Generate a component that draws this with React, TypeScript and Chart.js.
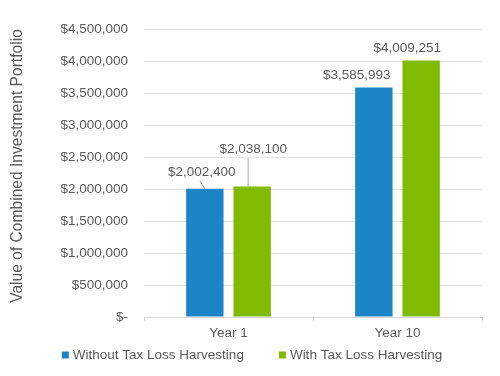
import React, { useEffect, useRef } from "react";
import { Chart, registerables } from "chart.js";

Chart.register(...registerables);

const categories = ["Year 1", "Year 10"];
const seriesNames = ["Without Tax Loss Harvesting", "With Tax Loss Harvesting"];
const withoutTLH = [2002400, 3585993];
const withTLH = [2038100, 4009251];
const yMin = 0;
const yMax = 4500000;
const yStep = 500000;
const yTitle = "Value of Combined Investment Portfolio";

const COLORS = ["#1B85C8", "#80BA01"];
const TEXT = "#595959";
const FONT_FAMILY = "'Liberation Sans', Arial, sans-serif";
const FONT_SIZE = 13.5;
const TITLE_SIZE = 15.6;

// label placement (relative to bar top centre) per dataset, per category
const labelOffsets = [
  [[-3, -17], [-17, -12.5]],
  [[1, -37], [-14, -12.5]],
];
// leader lines [dx1, dy1, dx2, dy2] relative to bar top centre, or null
const leaderLines = [
  [[-5, -8, 0, 0], null],
  [[-4, -28, -4, 0], null],
];

const fmt = (v: number) => (v === 0 ? "$-" : "$" + v.toLocaleString("en-US"));

const valueLabels = {
  id: "valueLabels",
  afterDatasetsDraw(chart: any) {
    const ctx = chart.ctx;
    ctx.save();
    ctx.font = `${FONT_SIZE}px ${FONT_FAMILY}`;
    ctx.fillStyle = TEXT;
    ctx.textAlign = "center";
    ctx.textBaseline = "middle";
    chart.data.datasets.forEach((ds: any, di: number) => {
      const meta = chart.getDatasetMeta(di);
      meta.data.forEach((bar: any, i: number) => {
        const [dx, dy] = labelOffsets[di][i];
        const ll = leaderLines[di][i];
        if (ll) {
          ctx.strokeStyle = "#A6A6A6";
          ctx.lineWidth = 1;
          ctx.beginPath();
          ctx.moveTo(bar.x + ll[0], bar.y + ll[1]);
          ctx.lineTo(bar.x + ll[2], bar.y + ll[3]);
          ctx.stroke();
        }
        ctx.fillText(fmt(ds.data[i]), bar.x + dx, bar.y + dy);
      });
    });
    ctx.restore();
  },
};

const axisTitle = {
  id: "axisTitle",
  afterDraw(chart: any) {
    const ctx = chart.ctx;
    const area = chart.chartArea;
    ctx.save();
    ctx.font = `${TITLE_SIZE}px ${FONT_FAMILY}`;
    ctx.fillStyle = TEXT;
    ctx.textAlign = "center";
    ctx.textBaseline = "middle";
    ctx.translate(18, (area.top + area.bottom) / 2 - 7);
    ctx.rotate(-Math.PI / 2);
    ctx.fillText(yTitle, 0, 0);
    ctx.restore();
  },
};

const bottomLegend = {
  id: "bottomLegend",
  afterDraw(chart: any) {
    const ctx = chart.ctx;
    ctx.save();
    ctx.font = `${FONT_SIZE}px ${FONT_FAMILY}`;
    ctx.textBaseline = "middle";
    ctx.textAlign = "left";
    const box = 7;
    const gapText = 4;
    const gapItems = 35;
    const items = chart.data.datasets.map((ds: any) => ({
      label: ds.label,
      color: ds.backgroundColor,
      w: ctx.measureText(ds.label).width,
    }));
    const total =
      items.reduce((s: number, it: any) => s + box + gapText + it.w, 0) +
      gapItems * (items.length - 1);
    let x = chart.width / 2 - total / 2 + 2;
    const y = 355;
    items.forEach((it: any) => {
      ctx.fillStyle = it.color;
      ctx.fillRect(x, y - box / 2, box, box);
      x += box + gapText;
      ctx.fillStyle = TEXT;
      ctx.fillText(it.label, x, y + 0.5);
      x += it.w + gapItems;
    });
    ctx.restore();
  },
};

export default function App() {
  const ref = useRef<HTMLCanvasElement | null>(null);
  useEffect(() => {
    if (!ref.current) return;
    const chart = new Chart(ref.current, {
      type: "bar",
      data: {
        labels: categories,
        datasets: [
          { label: seriesNames[0], data: withoutTLH, backgroundColor: COLORS[0] },
          { label: seriesNames[1], data: withTLH, backgroundColor: COLORS[1] },
        ],
      },
      options: {
        animation: false,
        responsive: true,
        maintainAspectRatio: false,
        layout: { padding: { left: 0, right: 18, top: 29, bottom: 35 } },
        datasets: {
          bar: { categoryPercentage: 0.56, barPercentage: 0.79 },
        },
        plugins: {
          legend: { display: false },
          tooltip: { enabled: false },
        },
        scales: {
          x: {
            grid: {
              offset: true,
              drawOnChartArea: false,
              drawTicks: true,
              tickLength: 4,
              color: "#D9D9D9",
            },
            border: { display: true, color: "#D9D9D9" },
            ticks: {
              color: TEXT,
              padding: 4,
              font: { size: FONT_SIZE, family: FONT_FAMILY },
            },
            afterFit: (s: any) => {
              s.height = 24;
            },
          },
          y: {
            min: yMin,
            max: yMax,
            grid: { color: "#E3E3E3", drawTicks: false },
            border: { display: false },
            ticks: {
              stepSize: yStep,
              padding: 16,
              color: TEXT,
              font: { size: FONT_SIZE, family: FONT_FAMILY },
              callback: (v: any) => fmt(Number(v)),
            },
            title: { display: false, text: yTitle },
            afterFit: (s: any) => {
              s.width = 144;
            },
          },
        },
      },
      plugins: [valueLabels, axisTitle, bottomLegend],
    });
    return () => chart.destroy();
  }, []);
  return (
    <div style={{ position: "absolute", left: 0, top: 0, width: 500, height: 376, background: "#fff" }}>
      <canvas ref={ref} />
    </div>
  );
}
